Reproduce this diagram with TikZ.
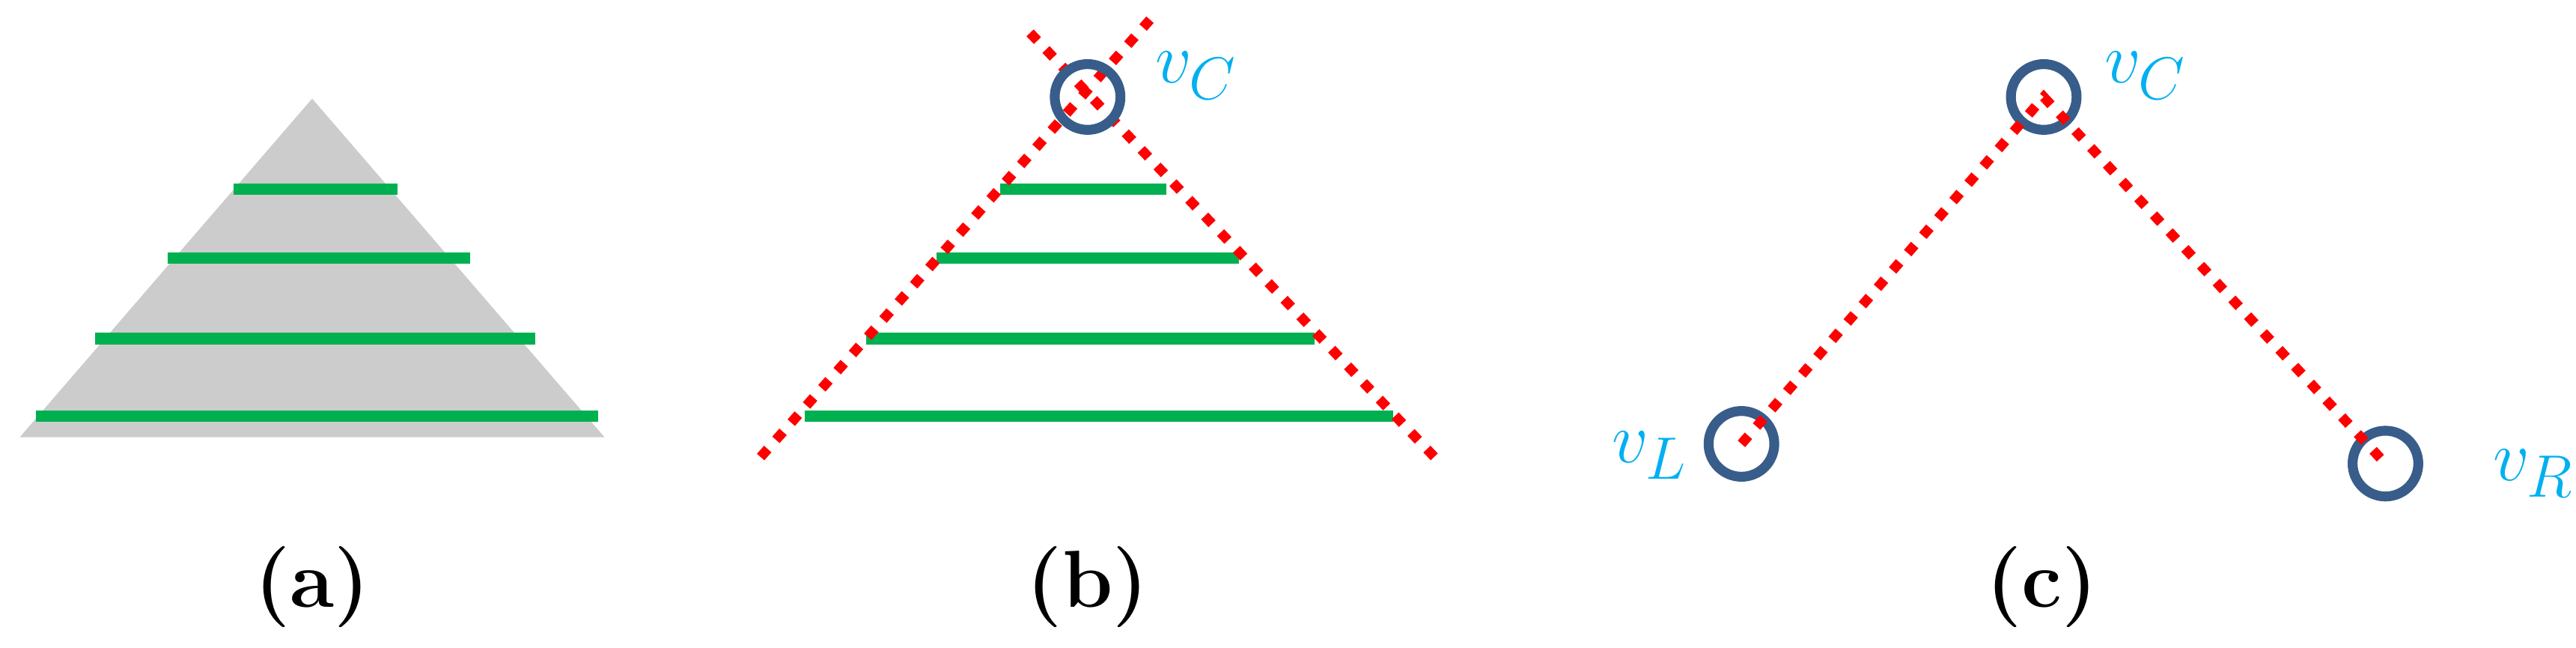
\documentclass[tikz,border=0pt]{standalone}
\usepackage{amsmath}
\begin{document}
\begin{tikzpicture}[x=0.02cm,y=-0.02cm,
  bar/.style={draw={rgb,255:red,0;green,176;blue,80}, line width=0.14cm},
  red dots/.style={draw={rgb,255:red,255;green,0;blue,0}, line width=0.12cm, dash pattern=on 0.13cm off 0.15cm},
  vert/.style={draw={rgb,255:red,56;green,93;blue,138}, line width=0.12cm, circle, minimum size=0.8cm, inner sep=0pt},
  lab/.style={text={rgb,255:red,0;green,176;blue,240}, font=\fontsize{28}{32}\selectfont},
  captxt/.style={font=\fontsize{28}{32}\selectfont\bfseries}]
\useasboundingbox (0,0) rectangle (1568,394);
% (a)
\fill[gray!40] (190,60) -- (368,266) -- (12,266) -- cycle;
\draw[bar] (142,115) -- (242,115);
\draw[bar] (102,157) -- (286,157);
\draw[bar] (58,206) -- (326,206);
\draw[bar] (22,253) -- (364,253);
\node[captxt] (ca) at (190,357) {(a)};
% (b)
\draw[bar] (609,115) -- (710,115);
\draw[bar] (570,157) -- (754,157);
\draw[bar] (527,206) -- (800,206);
\draw[bar] (490,253) -- (848,253);
\coordinate (b1) at (463,278); \coordinate (b2) at (700,12);
\coordinate (b3) at (627,20); \coordinate (b4) at (876,281);
\draw[red dots] (b1) -- (b2);
\draw[red dots] (b3) -- (b4);
\node[vert] (bc) at (662,59) {};
\node[lab] (lbc) at (728,46) {$v_C$};
\node[captxt] (cb) at (662,357) {(b)};
% (c)
\node[vert] (vc) at (1244,59) {};
\node[vert] (vl) at (1060,270) {};
\node[vert] (vr) at (1452,282) {};
\draw[red dots] (vl.center) -- (vc.center) -- (vr.center);
\node[lab] (lc) at (1306,46) {$v_C$};
\node[lab] (ll) at (1004,277) {$v_L$};
\node[lab] (lr) at (1542,288) {$v_R$};
\node[captxt] (cc) at (1243,357) {(c)};
\end{tikzpicture}
\end{document}
